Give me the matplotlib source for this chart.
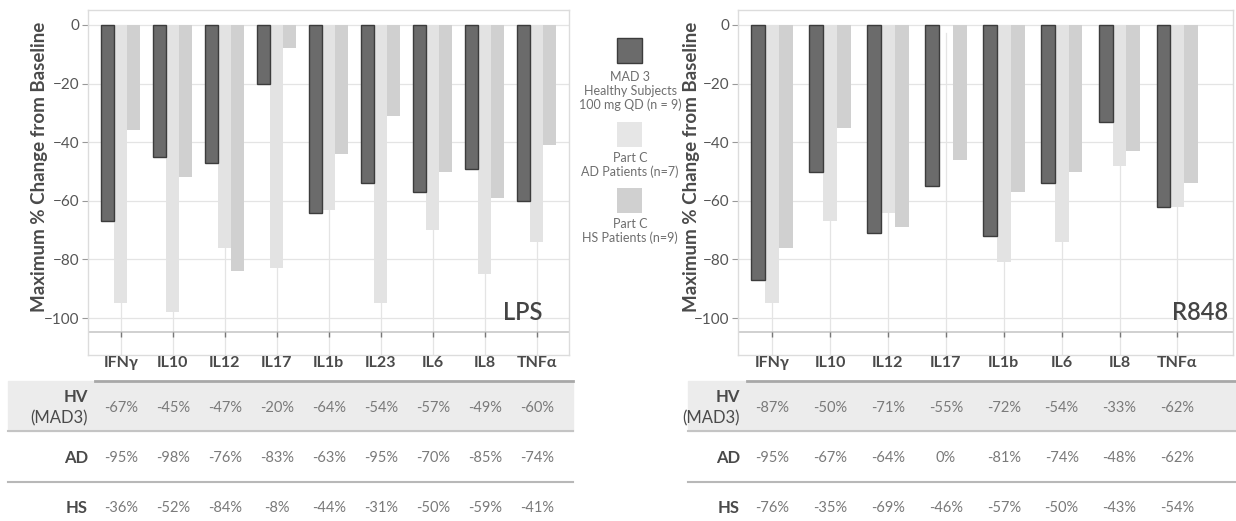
import numpy as np
import matplotlib.pyplot as plt
from matplotlib.patches import Rectangle
from matplotlib.lines import Line2D
import matplotlib.transforms as mtransforms

plt.rcParams['font.family'] = ['Lato', 'DejaVu Sans']

# LPS stimulation
lps_cats = ["IFNγ", "IL10", "IL12", "IL17", "IL1b", "IL23", "IL6", "IL8", "TNFα"]
lps_hv = [-67, -45, -47, -20, -64, -54, -57, -49, -60]
lps_ad = [-95, -98, -76, -83, -63, -95, -70, -85, -74]
lps_hs = [-36, -52, -84, -8, -44, -31, -50, -59, -41]

# R848 stimulation
r848_cats = ["IFNγ", "IL10", "IL12", "IL17", "IL1b", "IL6", "IL8", "TNFα"]
r848_hv = [-87, -50, -71, -55, -72, -54, -33, -62]
r848_ad = [-95, -67, -64, 0, -81, -74, -48, -62]
r848_hs = [-76, -35, -69, -46, -57, -50, -43, -54]

legend_labels = ["MAD 3\nHealthy Subjects\n100 mg QD (n = 9)",
                 "Part C\nAD Patients (n=7)",
                 "Part C\nHS Patients (n=9)"]

c_hv = "#6b6b6b"
c_ad = "#e3e3e3"
c_hs = "#d0d0d0"
grid_c = "#e4e4e4"

W, H = 1236, 521
fig = plt.figure(figsize=(W / 100, H / 100), dpi=100)


def fx(px):
    return px / W


def fy(px):
    return 1 - px / H


def panel(rect, cats, hv, ad, hs, width, xlim, name, name_x):
    ax = fig.add_axes(rect)
    x = np.arange(len(cats))
    ax.bar(x - width, hv, width, color=c_hv, edgecolor="#3c3c3c", linewidth=1, zorder=3)
    ax.bar(x, ad, width, color=c_ad, linewidth=0, zorder=2.5)
    ax.bar(x + width, hs, width, color=c_hs, linewidth=0, zorder=3)
    ax.set_xlim(*xlim)
    ax.set_ylim(-112.6, 5.1)
    ax.set_yticks([0, -20, -40, -60, -80, -100])
    ax.set_xticks([])
    for xi in x:
        ax.axvline(xi, ymax=(5.1 + 104.8) / 117.7, color=grid_c, lw=0.9, zorder=1)
    for yv in [0, -20, -40, -60, -80, -100]:
        ax.axhline(yv, color=grid_c, lw=0.9, zorder=1)
    ax.axhline(-104.8, color="#c8c8c8", lw=1.2, zorder=2)
    ax.vlines(x, -104.8, -106.3, color="#777777", lw=1, zorder=2)
    ax.tick_params(axis="y", length=4, color="#999999", labelcolor="#555555",
                   labelsize=11, pad=2)
    for s in ax.spines.values():
        s.set_color("#dcdcdc")
        s.set_linewidth(1)
    ax.set_ylabel("Maximum % Change from Baseline", fontsize=13.5,
                  fontweight="bold", color="#4a4a4a")
    ax.text(name_x, 0.122, name, transform=ax.transAxes, ha="right", va="center",
            fontsize=17, fontweight="semibold", color="#444444")
    return ax


ax1 = panel([fx(88), fy(355), fx(569 - 88), (355 - 10) / H],
            lps_cats, lps_hv, lps_ad, lps_hs, 0.25, (-0.63, 8.62), "LPS", 0.944)
ax1.yaxis.set_label_coords(-40 / 481, 0.545)

ax2 = panel([fx(738), fy(355), fx(1233 - 738), (355 - 10) / H],
            r848_cats, r848_hv, r848_ad, r848_hs, 0.24, (-0.59, 7.96), "R848", 0.99)
ax2.yaxis.set_label_coords(-38 / 495, 0.545)


def table(ax, cats, hv, ad, hs, x0, x1, line_x0, lab_x):
    # grey band for HV row
    fig.patches.append(Rectangle((fx(x0), fy(431)), fx(x1 - x0), (431 - 381) / H,
                                 transform=fig.transFigure, color="#ececec",
                                 zorder=0))
    fig.lines.append(Line2D([fx(line_x0), fx(x1)], [fy(381), fy(381)],
                            transform=fig.transFigure, color="#a8a8a8", lw=2))
    fig.lines.append(Line2D([fx(x0), fx(x1)], [fy(431), fy(431)],
                            transform=fig.transFigure, color="#c4c4c4", lw=1.5))
    fig.lines.append(Line2D([fx(x0), fx(x1)], [fy(482), fy(482)],
                            transform=fig.transFigure, color="#b8b8b8", lw=1.5))
    tr = mtransforms.blended_transform_factory(ax.transData, fig.transFigure)
    for i, c in enumerate(cats):
        fig.text(i, fy(363), c, transform=tr, ha="center", va="center",
                 fontsize=11.5, fontweight="bold", color="#4a4a4a")
        for yy, vals in [(408, hv), (458, ad), (508, hs)]:
            fig.text(i, fy(yy), f"{vals[i]}%", transform=tr, ha="center",
                     va="center", fontsize=10.5, color="#7a7a7a")
    fig.text(fx(lab_x), fy(397), "HV", ha="right", va="center", fontsize=12,
             fontweight="bold", color="#4a4a4a")
    fig.text(fx(lab_x), fy(418), "(MAD3)", ha="right", va="center", fontsize=12,
             color="#4a4a4a")
    fig.text(fx(lab_x), fy(458), "AD", ha="right", va="center", fontsize=12,
             fontweight="bold", color="#4a4a4a")
    fig.text(fx(lab_x), fy(508), "HS", ha="right", va="center", fontsize=12,
             fontweight="bold", color="#4a4a4a")


table(ax1, lps_cats, lps_hv, lps_ad, lps_hs, 8, 573, 95, 88)
table(ax2, r848_cats, r848_hv, r848_ad, r848_hs, 688, 1236, 747, 740)

# legend in the middle
leg_sq = [(38, c_hv, "#3c3c3c"), (122, "#e6e6e6", "none"), (188, c_hs, "none")]
leg_txt = [(91, legend_labels[0]), (165, legend_labels[1]), (231, legend_labels[2])]
for (top, fc, ec), (ty, lab) in zip(leg_sq, leg_txt):
    fig.patches.append(Rectangle((fx(617), fy(top + 25)), fx(25), 25 / H,
                                 transform=fig.transFigure, facecolor=fc,
                                 edgecolor=ec, lw=1))
    fig.text(fx(630), fy(ty), lab, ha="center", va="center", fontsize=9,
             color="#6e6e6e", linespacing=1.2)

fig.savefig("out.png", dpi=100)
